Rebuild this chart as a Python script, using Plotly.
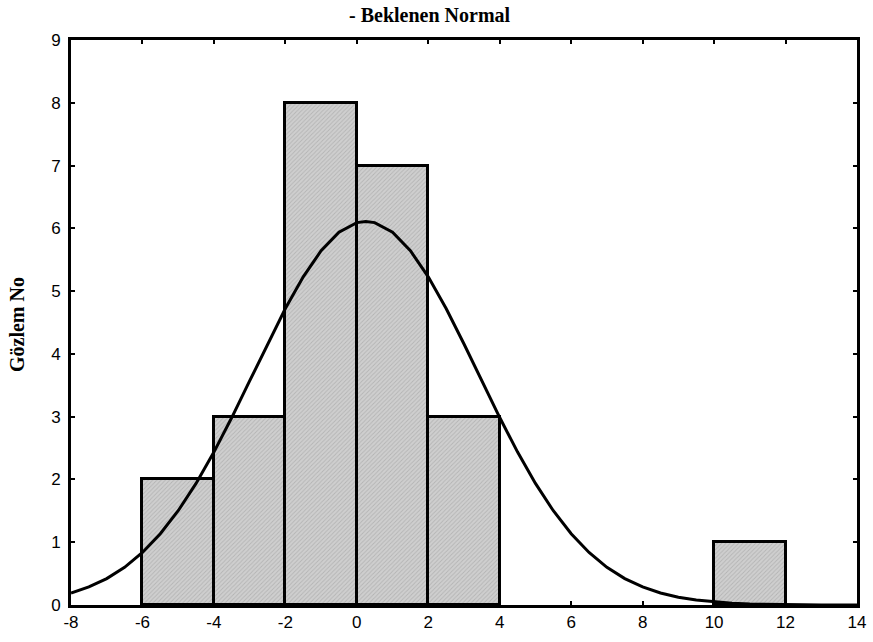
import plotly.graph_objects as go

# Histogram bins (centers) and counts
bin_centers = [-5, -3, -1, 1, 3, 11]
counts = [2, 3, 8, 7, 3, 1]
bin_width = 2

# Expected normal curve
curve_x = [-8, -7.5, -7, -6.5, -6, -5.5, -5, -4.5, -4, -3.5, -3, -2.5, -2, -1.5, -1, -0.5,
           0, 0.25, 0.5, 1, 1.5, 2, 2.5, 3, 3.5, 4, 4.5, 5, 5.5, 6, 6.5, 7, 7.5, 8, 8.5,
           9, 9.5, 10, 10.5, 11, 11.5, 12, 12.5, 13, 13.5, 14]
curve_y = [0.191, 0.287, 0.421, 0.600, 0.836, 1.135, 1.502, 1.937, 2.436, 2.986, 3.569,
           4.157, 4.722, 5.228, 5.643, 5.938, 6.091, 6.11, 6.091, 5.938, 5.643, 5.228,
           4.722, 4.157, 3.569, 2.986, 2.436, 1.937, 1.502, 1.135, 0.836, 0.600, 0.421,
           0.287, 0.191, 0.124, 0.078, 0.048, 0.029, 0.017, 0.0097, 0.0054, 0.003,
           0.0015, 0.0008, 0.0004]

title_text = "- Beklenen Normal"
y_title = "Gözlem No"
x_ticks = [-8, -6, -4, -2, 0, 2, 4, 6, 8, 10, 12, 14]
x_ticktext = ["-8", "-6", "-4", "-2", "0", "2", "4", "6", "8", "10", "12", "14"]
y_ticks = [0, 1, 2, 3, 4, 5, 6, 7, 8, 9]

fig = go.Figure()
fig.add_trace(go.Bar(
    x=bin_centers, y=counts, width=[bin_width] * len(bin_centers),
    marker=dict(color="#cacaca",
                line=dict(color="black", width=3),
                pattern=dict(shape="/", fgcolor="#999999", bgcolor="#cfcfcf",
                             size=3, solidity=0.3)),
    showlegend=False, hoverinfo="skip"))
fig.add_trace(go.Scatter(
    x=curve_x, y=curve_y, mode="lines",
    line=dict(color="black", width=3), showlegend=False, hoverinfo="skip"))

axis_common = dict(showgrid=False, zeroline=False, showline=True, linecolor="black",
                   linewidth=3, mirror="allticks", ticks="inside", ticklen=4,
                   tickwidth=2, tickcolor="black", automargin=False,
                   tickfont=dict(family="Liberation Sans, Arial", size=17, color="black"))

fig.update_layout(
    width=873, height=642,
    margin=dict(l=71, r=16, t=40, b=37, autoexpand=False),
    paper_bgcolor="white", plot_bgcolor="white",
    bargap=0,
    xaxis=dict(range=[-8, 14], tickvals=x_ticks, ticktext=x_ticktext, **axis_common),
    yaxis=dict(range=[0, 9], tickvals=y_ticks, ticklabelstandoff=4, **axis_common),
    annotations=[
        dict(text="<b>" + title_text + "</b>", xref="paper", yref="paper",
             x=(430 - 71) / 786, y=1 + (40 - 15) / 565, xanchor="center", yanchor="middle",
             showarrow=False,
             font=dict(family="Liberation Serif, Times New Roman", size=20, color="black")),
        dict(text="<b>" + y_title + "</b>", xref="paper", yref="paper",
             x=-(71 - 17) / 786, y=(605 - 325) / 565, xanchor="center", yanchor="middle",
             textangle=-90, showarrow=False,
             font=dict(family="Liberation Serif, Times New Roman", size=20, color="black")),
    ],
)

fig.write_html("out.html")
